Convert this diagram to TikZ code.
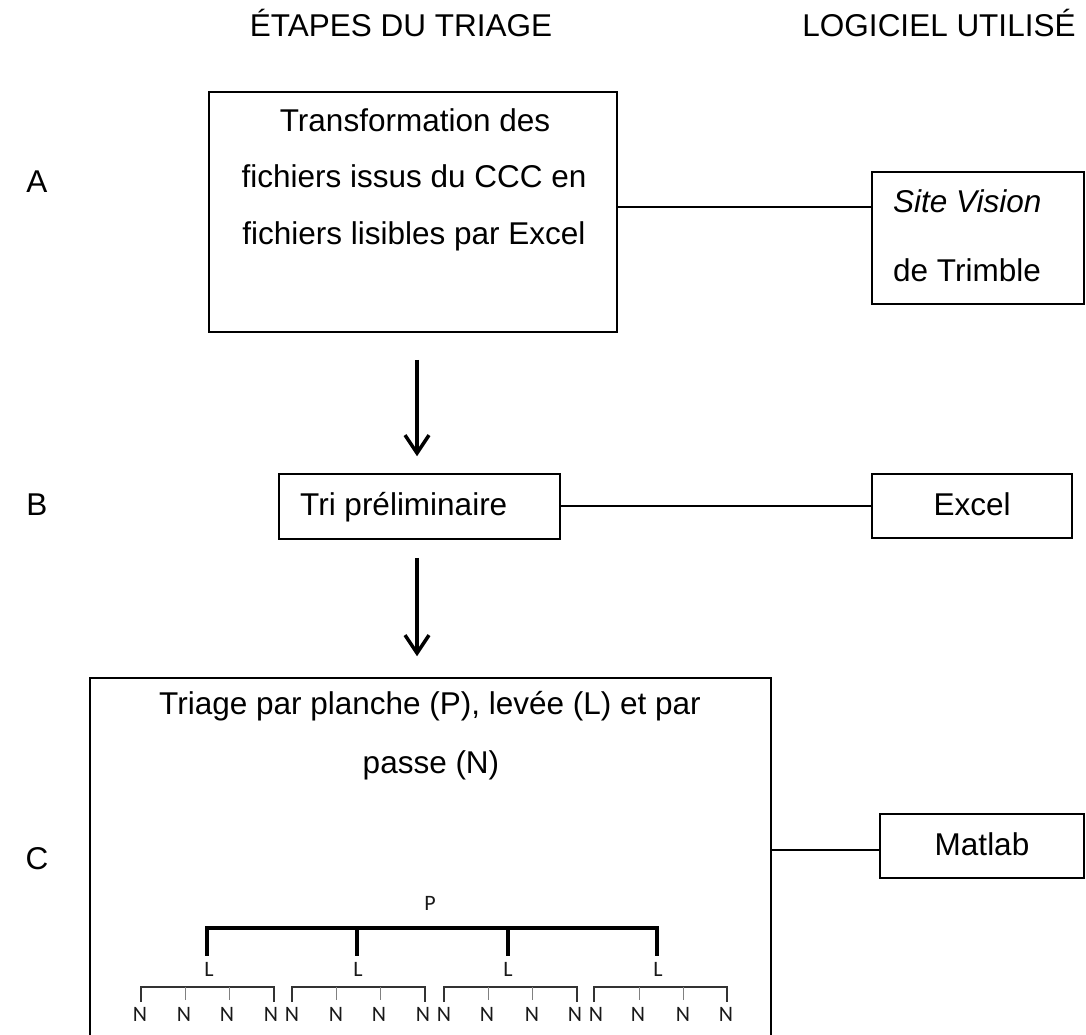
\documentclass[tikz,border=0pt]{standalone}
\usepackage{fontspec}
\setmainfont{Liberation Sans}
\newfontfamily\calfont{Carlito}
\usetikzlibrary{arrows.meta}
\begin{document}
\begin{tikzpicture}[x=1pt,y=-1pt,
  box/.style={draw, line width=1.5pt, inner sep=0pt},
  txt/.style={font=\fontsize{31.5}{36}\selectfont, inner sep=0pt, anchor=base},
  conn/.style={line width=1.5pt},
  flow/.style={line width=3.5pt, -{Straight Barb[length=18pt,width=24pt,line width=3.5pt]}},
  tlab/.style={font=\calfont\fontsize{22}{24}\selectfont, text=black!90, inner sep=0pt},
  thick bracket/.style={line width=3.5pt, line cap=rect},
  nbracket/.style={line width=1.6pt, draw=black!80},
  ntick/.style={line width=1pt, draw=black!50}
]
\useasboundingbox (0,0) rectangle (1086,1035);
\clip (0,0) rectangle (1086,1035);

% headings
\node[txt] (h1) at (401,37) {ÉTAPES DU TRIAGE};
\node[txt] (h2) at (939,37) {LOGICIEL UTILISÉ};

% row labels
\node[txt] (la) at (37,193) {A};
\node[txt] (lb) at (37,515) {B};
\node[txt] (lc) at (37,869) {C};

% boxes
\node[box, minimum width=408pt, minimum height=240pt] (boxA) at (413,212) {};
\node[box, minimum width=212pt, minimum height=132pt] (site) at (978,238) {};
\node[box, minimum width=281pt, minimum height=65pt] (boxB) at (419.5,506.5) {};
\node[box, minimum width=200pt, minimum height=64pt] (excel) at (972,506) {};
\node[box, minimum width=681pt, minimum height=400pt] (boxC) at (430.5,878) {};
\node[box, minimum width=204pt, minimum height=64pt] (matlab) at (982,846) {};

% box texts
\node[txt] (tA1) at (415,132) {Transformation des};
\node[txt] (tA2) at (414,188) {fichiers issus du CCC en};
\node[txt] (tA3) at (414,244) {fichiers lisibles par Excel};
\node[txt, anchor=base west] (s1) at (893,212) {\itshape Site Vision};
\node[txt, anchor=base west] (s2) at (893,281) {de Trimble};
\node[txt, anchor=base west] (tB) at (300,515) {Tri préliminaire};
\node[txt] (tE) at (972,515) {Excel};
\node[txt] (tM) at (982,855) {Matlab};
\node[txt] (tC1) at (430,714) {Triage par planche (P), levée (L) et par};
\node[txt] (tC2) at (431,773) {passe (N)};

% connectors
\draw[conn] ([yshift=5pt]boxA.east) -- ([yshift=5pt]boxA.east -| site.west);
\draw[conn] (boxB.east |- excel.west) -- (excel.west);
\draw[conn] ([yshift=-4pt]matlab.west -| boxC.east) -- ([yshift=-4pt]matlab.west);

% arrows
\coordinate (a1s) at ([xshift=4pt,yshift=-27pt]boxA.south);
\coordinate (a1e) at ([xshift=4pt,yshift=17pt]boxA.south |- boxB.north);
\draw[flow] (a1s) -- (a1e);
\coordinate (a2s) at ([xshift=-2.5pt,yshift=-18pt]boxB.south);
\coordinate (a2e) at ([xshift=-2.5pt,yshift=21pt]boxB.south |- boxC.north);
\draw[flow] (a2s) -- (a2e);

% tree
\node[tlab] (P) at (430,903) {P};
\foreach \i/\x in {1/209,2/358,3/508,4/658}{
  \node[tlab] (L\i) at (\x,969) {L};
}
\draw[thick bracket] (207,954) -- (207,928) -- (657,928) -- (657,954);
\draw[thick bracket] (357,928) -- (357,954);
\draw[thick bracket] (508,928) -- (508,954);

\foreach \g/\xa/\xb/\xc/\xd in {1/141/185/229/274, 2/292/336/380/425, 3/444/488/532/577, 4/594/639/683/727}{
  \draw[nbracket] (\xa,1002) -- (\xa,987) -- (\xd,987) -- (\xd,1002);
  \draw[ntick] (\xb,987) -- (\xb,1000);
  \draw[ntick] (\xc,987) -- (\xc,1000);
}
\foreach \j/\x in {1/140,2/184,3/227,4/271,5/292,6/336,7/379,8/423,9/444,10/487,11/532,12/575,13/596,14/638,15/683,16/726}{
  \node[tlab] (N\j) at (\x,1014) {N};
}
\end{tikzpicture}
\end{document}
